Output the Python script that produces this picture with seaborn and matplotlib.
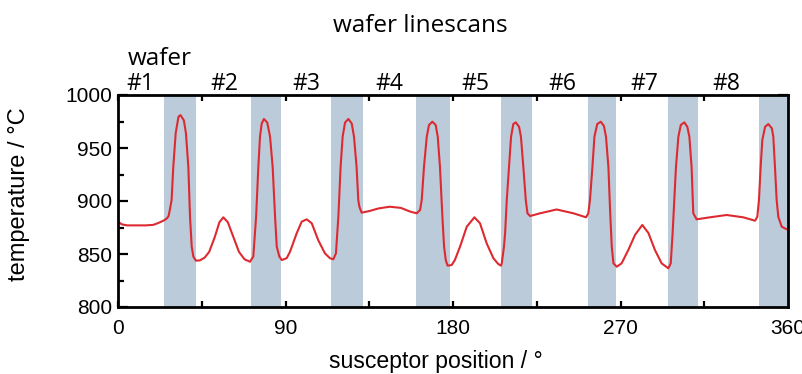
import matplotlib
matplotlib.use("Agg")
import matplotlib.pyplot as plt
import matplotlib.transforms as mtransforms
from matplotlib.ticker import MultipleLocator
import seaborn as sns
import pandas as pd

# ---- data ----
position = [0, 2, 5, 10, 15, 19, 22, 25, 26.5, 27.2, 28.0, 28.8, 29.7, 31, 32.5, 33.6, 35.4, 36.5,
            37.8, 38.7, 39.6, 40.5, 41.9, 44, 46.5,
            49, 52, 54.5, 56.6, 59, 62, 65, 68, 70.9,
            72.7, 74.2, 75.4, 76.3, 77.2, 78.4, 80.2, 81.7, 83.1, 84.4, 85.3, 86.7, 88, 90.6,
            92.4, 96, 98.7, 101.4, 104.1, 107.6, 111.2, 113.9, 115.7,
            117.1, 118.4, 119.6, 120.7, 122, 123.8, 125.6, 126.8, 128.2, 129.1, 129.7, 130.9,
            135, 140, 146, 152, 157, 160.5, 162.3,
            163.2, 164.4, 165.9, 167.1, 168.9, 170.7, 171.8, 173, 174.3, 175.2, 176.1, 177.1, 179.3, 181,
            183.8, 187.4, 191.5, 194.5, 198.1, 201.7, 204.3, 205.8,
            206.2, 207.4, 208, 208.9, 210.1, 211.2, 212.4, 213.7, 215.5, 216.5, 217.8, 219.1, 220,
            221.4, 226.8, 235.7, 244.7, 251.5,
            252.7, 253.6, 254.9, 256, 257.5, 259.4, 261.1, 262.2, 263.5, 264.4, 265.3, 266.2, 268,
            270.6, 274.2, 277.8, 281.7,
            285, 288.5, 292.1, 295.7,
            297, 298, 298.9, 299.8, 301.1, 302.4, 304.3, 305.9, 307, 308.2, 309.1, 310.9, 318, 327,
            336, 342.3,
            343.5, 344.4, 345.3, 346.2, 347.7, 349.4, 351.3, 352.1, 353, 353.9, 354.8, 356.6, 359.3, 360]
temperature = [880.5, 878, 877, 877, 877, 877.5, 879.5, 882, 884, 886, 893, 901, 932, 964, 979.5, 981, 976, 964,
               932, 885, 857, 847.5, 843.7, 844, 846.5,
               852, 866, 880, 884.6, 880, 866, 852, 845, 842.7,
               847.5, 885, 932, 960.7, 973, 977.4, 974, 960.7, 932, 885, 857, 847.5, 844.3, 846,
               852, 869.5, 880.5, 882.7, 879, 863, 850.6, 846, 845,
               850.6, 885, 932, 960.7, 974, 977.4, 973, 960.7, 932, 901, 894.6, 889,
               890.5, 893, 894.6, 893.5, 890, 888.4, 891.5,
               901, 932, 960.7, 971.7, 974.8, 971.7, 960.7, 932, 885, 857, 844.3, 839, 839.6, 844.3,
               857, 875.8, 884.6, 879, 860, 846, 840.6, 839,
               841.2, 857, 869.8, 901, 932, 960.7, 972.6, 974.2, 970, 960.7, 932, 901, 888.4,
               885.8, 888.4, 892, 888.4, 884.6,
               888.4, 901, 932, 960.7, 972.6, 974.8, 970.8, 960.7, 932, 891.5, 857, 841.2, 838,
               841.2, 853.8, 868, 877.4,
               869.8, 853.8, 841.2, 836.5,
               841.2, 869.5, 901, 932, 960.7, 971.7, 974.2, 970, 960.7, 932, 888.4, 882.7, 884.6, 886.8,
               884.6, 881.4,
               885, 901, 932, 957.5, 970, 972.6, 968.6, 960.7, 932, 901, 885, 875.8, 873.3, 873.3]

band_start = [24.9, 71.5, 114.5, 160.0, 205.8, 252.5, 295.5, 344.4]
band_end = [41.8, 87.6, 131.5, 178.4, 222.3, 267.4, 311.5, 360.0]

wafer_labels = ["#1", "#2", "#3", "#4", "#5", "#6", "#7", "#8"]
wafer_label_pos = [11.8, 57.0, 101.0, 146.0, 192.0, 238.6, 282.6, 327.0]

x_ticks = [0, 90, 180, 270, 360]
y_ticks = [800, 850, 900, 950, 1000]

assert len(position) == len(temperature)
df = pd.DataFrame({"position": position, "temperature": temperature})

# ---- style ----
sns.set_style("ticks")
plt.rcParams["font.family"] = ["Liberation Sans", "DejaVu Sans"]
plt.rcParams["text.color"] = "black"
plt.rcParams["axes.labelcolor"] = "black"
plt.rcParams["xtick.color"] = "black"
plt.rcParams["ytick.color"] = "black"

fig = plt.figure(figsize=(8.02, 3.74), dpi=100)
ax = fig.add_axes([118 / 802, 1 - 307 / 374, (788 - 118) / 802, (307 - 95) / 374])

for s, e in zip(band_start, band_end):
    ax.axvspan(s, e, color="#bccbda", lw=0, zorder=1)

sns.lineplot(data=df, x="position", y="temperature", ax=ax, color="#dd2a30",
             linewidth=1.5, zorder=3, sort=False)
for ln in ax.lines:
    ln.set_solid_joinstyle("round")

ax.set_xlim(0, 360)
ax.set_ylim(800, 1000)
ax.set_xticks(x_ticks)
ax.set_yticks(y_ticks)
ax.xaxis.set_minor_locator(MultipleLocator(45))
ax.yaxis.set_minor_locator(MultipleLocator(25))

for side in ["left", "right", "top", "bottom"]:
    ax.spines[side].set_visible(True)
    ax.spines[side].set_linewidth(2.0)
    ax.spines[side].set_color("black")
    ax.spines[side].set_zorder(5)

ax.tick_params(axis="both", which="both", direction="in", top=True, right=True,
               color="black", labelcolor="black", width=1.6)
ax.tick_params(axis="y", which="major", length=7)
ax.tick_params(axis="y", which="minor", length=4)
ax.tick_params(axis="x", which="both", length=4)

tick_font = ["Liberation Sans Narrow", "Liberation Sans", "DejaVu Sans"]
ax.set_xticklabels([str(v) for v in x_ticks], fontsize=15, family=tick_font)
ax.set_yticklabels([str(v) for v in y_ticks], fontsize=15, family=tick_font)
ax.tick_params(axis="x", pad=9)
ax.tick_params(axis="y", pad=4)

ax.set_xlabel("susceptor position / °", fontsize=16.6, color="black")
ax.xaxis.set_label_coords((435.5 - 118) / 670, (307 - 350) / 212)
ax.set_ylabel("temperature / °C", fontsize=17, color="black")
ax.yaxis.set_label_coords((30 - 118) / 670, (307 - 194) / 212)

label_font = ["Open Sans", "DejaVu Sans"]
trans = mtransforms.blended_transform_factory(ax.transData, ax.transAxes)
for lab, xp in zip(wafer_labels, wafer_label_pos):
    ax.text(xp, (307 - 90) / 212, lab, transform=trans, ha="center", va="baseline",
            fontsize=16.5, family=label_font, color="black")
ax.text(5.4, (307 - 65) / 212, "wafer", transform=trans, ha="left", va="baseline",
        fontsize=17.5, family=label_font, color="black")

fig.text(420 / 802, 1 - 32 / 374, "wafer linescans", ha="center", va="baseline",
         fontsize=17.5, family=label_font, color="black")

fig.savefig("out.png", dpi=100)
